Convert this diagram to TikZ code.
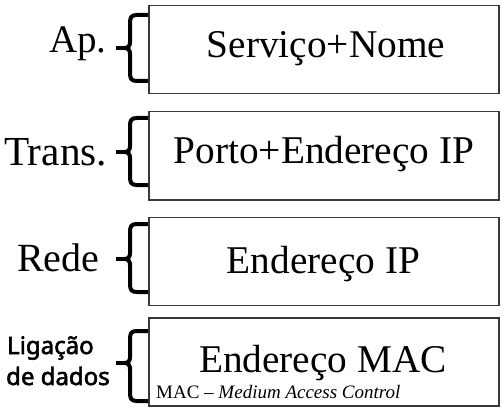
\documentclass[tikz,border=0pt]{standalone}
\usepackage{fontspec}
\setmainfont{Liberation Serif}
\newfontfamily\labsans{Noto Sans}[AutoFakeBold=2.4]
\newcommand\layerbrace[3]{%
  \draw[bracestroke] (148,#1) -- (137,#1) .. controls (131.5,#1) and (130,#1+2) .. (130,#1+8)
    -- (130,#2-6) .. controls (130,#2-2) and (128.5,#2) .. (124,#2)
    .. controls (128.5,#2) and (130,#2+2) .. (130,#2+6)
    -- (130,#3-8) .. controls (130,#3-2) and (131.5,#3) .. (137,#3) -- (148,#3);
  \draw[bracestroke] (125,#2) -- (116,#2);}
\begin{document}
\begin{tikzpicture}[x=1pt,y=-1pt,
  layerbox/.style={draw=black!78, line width=1.5pt, minimum width=350pt, minimum height=88pt, inner sep=0pt, anchor=north west},
  boxtext/.style={font=\fontsize{39.3}{41}\selectfont, anchor=base, inner sep=0pt},
  lab/.style={anchor=base west, inner sep=0pt},
  sanslab/.style={font=\labsans\bfseries\fontsize{24}{26}\selectfont, anchor=base west, inner sep=0pt},
  note/.style={font=\fontsize{19}{20}\selectfont, anchor=base west, inner sep=0pt},
  bracestroke/.style={line width=4pt, line join=round, line cap=butt}]
\useasboundingbox (0,0) rectangle (504,412);
% boxes
\node[layerbox] (b1) at (148,5) {};
\node[layerbox] (b2) at (148,111) {};
\node[layerbox] (b3) at (148,216.5) {};
\node[layerbox] (b4) at (148,317) {};
% box texts
\node[boxtext] (t1) at (326,58) {Serviço+Nome};
\node[boxtext] (t2) at (324,163) {Porto+Endereço IP};
\node[boxtext] (t3) at (323.5,273) {Endereço IP};
\node[boxtext] (t4) at (323,372) {Endereço MAC};
\node[note] (n4) at (156,398) {MAC – \textit{Medium Access Control}};
% labels
\node[lab, font=\fontsize{39}{41}\selectfont] (l1) at (49,53) {Ap.};
\node[lab, font=\fontsize{41.3}{43}\selectfont] (l2) at (4,165) {Trans.};
\node[lab, font=\fontsize{40}{42}\selectfont] (l3) at (17,271) {Rede};
\node[sanslab] (l4a) at (7,354) {Ligação};
\node[sanslab] (l4b) at (6,385) {de dados};
% braces
\layerbrace{15}{48}{81}
\layerbrace{118}{152}{185}
\layerbrace{224}{259}{292}
\layerbrace{331}{363}{401}
\end{tikzpicture}
\end{document}
